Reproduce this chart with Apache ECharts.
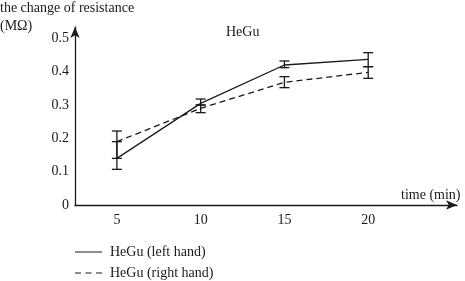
<!DOCTYPE html>
<html>
<head>
<meta charset="utf-8">
<script src="https://cdn.jsdelivr.net/npm/echarts@6/dist/echarts.min.js"></script>
<style>
  html, body { margin: 0; padding: 0; background: #fff; }
  #chart { width: 465px; height: 281px; }
</style>
</head>
<body>
<div id="chart"></div>
<script>
// 时间点 (min)
const times = [5, 10, 15, 20];
// 左手 HeGu
const leftMean = [0.14, 0.305, 0.42, 0.437];
const leftLow = [0.107, 0.300, 0.412, 0.415];
const leftHigh = [0.19, 0.318, 0.432, 0.457];
// 右手 HeGu
const rightMean = [0.19, 0.29, 0.368, 0.398];
const rightLow = [0.14, 0.277, 0.352, 0.38];
const rightHigh = [0.222, 0.30, 0.385, 0.415];
const yTicks = [0, 0.1, 0.2, 0.3, 0.4, 0.5];

const font = 'Liberation Serif, DejaVu Serif, serif';
const ink = '#1a1a1a';

const chart = echarts.init(document.getElementById('chart'));

// 误差线
function errorBar(params, api) {
  const x = api.value(0);
  const lo = api.coord([x, api.value(1)]);
  const hi = api.coord([x, api.value(2)]);
  const w = 5;
  const style = { stroke: ink, lineWidth: 1.3 };
  return {
    type: 'group',
    children: [
      { type: 'line', shape: { x1: lo[0], y1: lo[1], x2: hi[0], y2: hi[1] }, style },
      { type: 'line', shape: { x1: lo[0] - w, y1: lo[1], x2: lo[0] + w, y2: lo[1] }, style },
      { type: 'line', shape: { x1: hi[0] - w, y1: hi[1], x2: hi[0] + w, y2: hi[1] }, style }
    ]
  };
}

const option = {
  animation: false,
  textStyle: { fontFamily: font, color: ink },
  grid: { left: 75, right: 8, top: 27, bottom: 76 },
  legend: {
    orient: 'vertical',
    left: 75,
    top: 245,
    padding: 0,
    itemWidth: 27,
    itemHeight: 1.4,
    itemGap: 7,
    textStyle: { fontFamily: font, fontSize: 14, color: ink, padding: [0, 0, 0, 3] },
    data: [
      { name: 'HeGu (left hand)', icon: 'path://M0,0H27V1H0Z' },
      { name: 'HeGu (right hand)', icon: 'path://M0,0H6V1H0Z M10.5,0H16.5V1H10.5Z M21,0H27V1H21Z' }
    ]
  },
  graphic: [
    { type: 'text', left: 0, top: 1, style: { text: 'the change of resistance', font: '14px ' + font, fill: ink } },
    { type: 'text', left: 0, top: 19, style: { text: '(MΩ)', font: '14px ' + font, fill: ink } },
    { type: 'text', left: 226, top: 25, style: { text: 'HeGu', font: '14px ' + font, fill: ink } },
    { type: 'text', left: 401, top: 188, style: { text: 'time (min)', font: '14px ' + font, fill: ink } }
  ],
  xAxis: {
    type: 'value',
    min: 2.5,
    max: 25.3,
    axisLine: { show: true, symbol: ['none', 'arrow'], symbolSize: [7, 11], lineStyle: { color: ink, width: 1.3 } },
    axisTick: { show: false },
    splitLine: { show: false },
    axisLabel: { customValues: times, margin: 8, fontSize: 14, color: ink, fontFamily: font }
  },
  yAxis: {
    type: 'value',
    min: 0,
    max: 0.534,
    axisLine: { show: true, symbol: ['none', 'arrow'], symbolSize: [7, 11], lineStyle: { color: ink, width: 1.3 } },
    axisTick: { show: false },
    splitLine: { show: false },
    axisLabel: {
      customValues: yTicks,
      margin: 6,
      fontSize: 14,
      color: ink,
      fontFamily: font,
      formatter: (v) => (v === 0 ? '0' : v.toFixed(1))
    }
  },
  series: [
    {
      name: 'HeGu (left hand)',
      type: 'line',
      symbol: 'none',
      data: times.map((t, i) => [t, leftMean[i]]),
      itemStyle: { color: ink },
      lineStyle: { color: ink, width: 1.3 }
    },
    {
      name: 'HeGu (right hand)',
      type: 'line',
      symbol: 'none',
      data: times.map((t, i) => [t, rightMean[i]]),
      itemStyle: { color: ink },
      lineStyle: { color: ink, width: 1.3, type: [6, 4] }
    },
    {
      type: 'custom',
      renderItem: errorBar,
      data: times.map((t, i) => [t, leftLow[i], leftHigh[i]]),
      z: 3
    },
    {
      type: 'custom',
      renderItem: errorBar,
      data: times.map((t, i) => [t, rightLow[i], rightHigh[i]]),
      z: 3
    }
  ]
};

chart.setOption(option);
</script>
</body>
</html>
